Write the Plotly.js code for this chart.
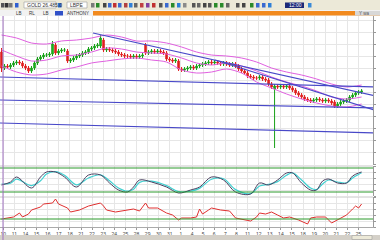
<!DOCTYPE html>
<html><head><meta charset="utf-8">
<script src="https://cdn.plot.ly/plotly-3.0.1.min.js"></script>
<style>html,body{margin:0;padding:0;background:#fff;overflow:hidden}#chart{width:380px;height:240px}</style>
</head><body><div id="chart"></div>
<script>
// ---- price candles (one per bar) ----
const candleOpen = [1324,1292,1296,1294,1298,1302,1304,1302,1296,1292, 1286,1292,1302,1310,1314,1318,1318,1320,1338,1322,
 1326,1328,1326,1306,1308,1312,1316,1318,1322,1324, 1330,1332,1336,1336,1348,1328,1330,1328,1326,1324,
 1320,1318,1316,1316,1314,1316,1314,1316,1338,1322, 1324,1326,1324,1326,1324,1322,1310,1308,1306,1306,
 1290,1288,1290,1292,1294,1292,1296,1298,1300,1302, 1304,1302,1304,1302,1300,1302,1300,1298,1300,1296,
 1290,1286,1282,1276,1274,1272,1272,1274,1270,1268, 1260,1250,1256,1254,1256,1254,1256,1252,1248,1242,
 1238,1234,1230,1228,1226,1228,1230,1228,1226,1228, 1226,1224,1216,1220,1224,1226,1228,1234,1238,1242, 1244];
const candleClose = [1292,1296,1294,1298,1302,1304,1302,1296,1292,1286, 1292,1302,1310,1314,1318,1318,1320,1340,1322,1326,
 1328,1328,1306,1308,1312,1316,1318,1322,1324,1330, 1332,1336,1338,1352,1328,1330,1328,1326,1324,1320,
 1318,1316,1316,1314,1316,1314,1316,1318,1322,1324, 1326,1324,1326,1324,1322,1310,1308,1306,1308,1290,
 1288,1290,1292,1294,1292,1296,1298,1300,1302,1304, 1302,1304,1302,1300,1302,1300,1298,1300,1296,1290,
 1286,1282,1276,1274,1272,1272,1274,1270,1268,1260, 1254,1256,1254,1256,1254,1256,1252,1248,1242,1238,
 1234,1230,1228,1226,1228,1230,1228,1226,1228,1226, 1222,1216,1220,1224,1226,1228,1234,1238,1242,1244, 1246];
const candleHigh = [1332,1300,1300,1302,1306,1308,1308,1306,1300,1296, 1296,1306,1314,1318,1322,1322,1324,1346,1342,1330,
 1332,1332,1330,1312,1316,1320,1322,1326,1328,1334, 1336,1340,1342,1358,1352,1334,1334,1332,1330,1328,
 1324,1322,1320,1320,1320,1320,1320,1322,1342,1328, 1330,1330,1330,1330,1328,1326,1314,1312,1312,1310,
 1294,1294,1296,1298,1298,1300,1302,1304,1306,1308, 1308,1308,1308,1306,1306,1306,1304,1304,1304,1300,
 1294,1290,1286,1280,1278,1276,1278,1278,1274,1272, 1264,1260,1260,1260,1260,1260,1260,1256,1252,1246,
 1242,1238,1234,1232,1232,1234,1234,1232,1232,1232, 1230,1228,1224,1228,1230,1232,1238,1242,1246,1248, 1250];
const candleLow = [1284,1288,1290,1290,1294,1298,1298,1292,1288,1282, 1282,1288,1298,1306,1310,1314,1314,1316,1318,1318,
 1322,1324,1302,1302,1304,1308,1312,1314,1318,1320, 1326,1328,1332,1332,1324,1324,1324,1322,1320,1316,
 1314,1312,1312,1310,1310,1310,1310,1312,1318,1318, 1320,1320,1320,1320,1318,1306,1304,1302,1302,1286,
 1284,1284,1286,1288,1288,1288,1292,1294,1296,1298, 1298,1298,1298,1296,1296,1296,1294,1294,1292,1286,
 1282,1278,1272,1270,1268,1268,1268,1266,1264,1256, 1250,1132,1250,1250,1250,1250,1248,1244,1238,1234,
 1230,1226,1224,1222,1222,1224,1224,1222,1222,1222, 1218,1212,1212,1216,1220,1222,1224,1230,1234,1238, 1240];

// ---- Bollinger bands (read every 5 bars) ----
const bandIdx = [0,5,10,15,20,25,30,35,40,45,50,55,60,65,70,75,80,85,90,95,100,105,110,115,120];
const bandUpper = [1358,1352,1342,1340,1346,1348,1352,1358,1354,1346,1346,1342,1334,1324,1318,1316,1312,1304,1292,1284,1278,1270,1260,1254,1258];
const bandMiddle = [1328,1316,1306,1308,1316,1318,1324,1332,1330,1324,1322,1320,1312,1302,1298,1302,1296,1286,1274,1264,1256,1246,1234,1230,1234];
const bandLower = [1296,1284,1278,1280,1288,1294,1302,1306,1310,1312,1308,1304,1288,1282,1284,1290,1282,1264,1252,1240,1230,1222,1216,1214,1220];

// ---- hand drawn trend lines (bar index, price) ----
const lineA_x = [-0.5, 126.2], lineA_y = [1274, 1254];
const lineB_x = [-0.5, 126.2], lineB_y = [1228, 1212];
const lineC_x = [-0.5, 126.2], lineC_y = [1182, 1162];
const lineD_x = [30.5, 126.2], lineD_y = [1362, 1234];
const lineE_x = [71.2, 126.2], lineE_y = [1308, 1204];

// ---- stochastic ----
const stochIdx = [0,3,5,10,13,15,18,21,25,29,33,36,39,42,44,46,50,55,59,63,66,70,74,78,83,86,89,92,95,97,100,103,105,107,109,112,115,117,119,120];
const stochK = [37.5,45,57.5,30,57.5,70,70,57.5,32.5,62.5,62.5,42.5,25,20,32.5,50,45,32.5,17.5,25,32.5,57.5,50,20,15,42.5,37.5,50,67.5,67.5,42.5,25,25,47.5,52.5,42.5,42.5,60,67.5,70];
const stochD = [40,42,52,36,48,65,71,62,38,55,63,48,30,22,27,44,47,36,21,22,29,52,53,26,16,35,39,46,62,68,50,30,26,40,50,45,43,55,64,68];
const stochLevels = [20, 80];

// ---- RSI ----
const rsiIdx = [0,2,4,6,7,9,10,13,14,17,18,19,22,23,26,29,33,34,35,38,40,44,46,48,49,52,55,57,59,60,63,
 65,66,67,69,70,73,76,78,80,83,85,86,88,90,92,94,96,99,102,103,105,108,110,112,114,115,117,118,119,120];
const rsiVal = [30,31.5,33,39,33,37.5,43.5,48,52.5,54,60,52.5,46.5,40.5,43.5,49.5,54,49.5,43.5,40.5,42,45,42,54,46.5,46.5,39,36,28.5,31.5,31.5,
 33,45,37.5,43.5,46.5,43.5,42,31.5,30,27,33,39,37.5,40.5,36,31.5,33,28.5,22.5,31.5,33,33,24,28.5,33,36,45,49.5,46.5,52.5];
const rsiLevels = [30];

// ---- axis labels ----
const xTickLabels = ["10","11","14","15","16","17","18","21","22","23","24","25","28","29","30","31","1","4","5","6","7","8","11","12","13","14","15","18","19","20","21","22","25"];
const toolbarSymbol = "GOLD 26.485.0";
const toolbarPeriod = "LBPE";
const tabLabels = ["LB","RL","LB","ANTHONY"];

const barIdx = candleClose.map((_, i) => i);

// ---------- layout helpers ----------
const H = 240, W = 380;
const py = p => 1 - p / H;
const px = p => p / W;

const mainDom = [py(165), py(16)];
const stochDom = [py(196), py(166)];
const rsiDom = [py(227), py(197)];

const bandLine = {color: '#e060e0', width: 1, shape: 'spline', smoothing: 0.8};
const blue = {color: '#4848c8', width: 1.2};

const traces = [
  {type: 'candlestick', x: barIdx, open: candleOpen, high: candleHigh, low: candleLow, close: candleClose,
   xaxis: 'x', yaxis: 'y', whiskerwidth: 0,
   increasing: {line: {color: '#18a018', width: 1}, fillcolor: '#20c020'},
   decreasing: {line: {color: '#e02020', width: 1}, fillcolor: '#e02020'}},
  {type: 'scatter', mode: 'lines', x: bandIdx, y: bandUpper, line: bandLine, xaxis: 'x', yaxis: 'y'},
  {type: 'scatter', mode: 'lines', x: bandIdx, y: bandMiddle, line: bandLine, xaxis: 'x', yaxis: 'y'},
  {type: 'scatter', mode: 'lines', x: bandIdx, y: bandLower, line: bandLine, xaxis: 'x', yaxis: 'y'},
  {type: 'scatter', mode: 'lines', x: lineA_x, y: lineA_y, line: blue, xaxis: 'x', yaxis: 'y'},
  {type: 'scatter', mode: 'lines', x: lineB_x, y: lineB_y, line: blue, xaxis: 'x', yaxis: 'y'},
  {type: 'scatter', mode: 'lines', x: lineC_x, y: lineC_y, line: blue, xaxis: 'x', yaxis: 'y'},
  {type: 'scatter', mode: 'lines', x: lineD_x, y: lineD_y, line: blue, xaxis: 'x', yaxis: 'y'},
  {type: 'scatter', mode: 'lines', x: lineE_x, y: lineE_y, line: blue, xaxis: 'x', yaxis: 'y'},
  {type: 'scatter', mode: 'lines', x: stochIdx, y: stochD, line: {color: '#40d0d0', width: 1.2, shape: 'spline'}, xaxis: 'x', yaxis: 'y2'},
  {type: 'scatter', mode: 'lines', x: stochIdx, y: stochK, line: {color: '#4a4060', width: 1, shape: 'spline'}, xaxis: 'x', yaxis: 'y2'},
  {type: 'scatter', mode: 'lines', x: rsiIdx, y: rsiVal, line: {color: '#e03030', width: 1}, xaxis: 'x', yaxis: 'y3'}
];

const shapes = [];
const annotations = [];
// toolbar
shapes.push({type: 'rect', xref: 'paper', yref: 'paper', x0: 0, x1: 1, y0: py(10), y1: 1, fillcolor: '#ece9d8', line: {width: 0}, layer: 'above'});
shapes.push({type: 'rect', xref: 'paper', yref: 'paper', x0: 0, x1: 1, y0: py(16), y1: py(10), fillcolor: '#f2f2f2', line: {width: 0}, layer: 'above'});
shapes.push({type: 'rect', xref: 'paper', yref: 'paper', x0: px(93), x1: 1, y0: py(15.5), y1: py(11), fillcolor: '#f28a1e', line: {width: 0}, layer: 'above'});
shapes.push({type: 'rect', xref: 'paper', yref: 'paper', x0: px(355), x1: 1, y0: py(15.5), y1: py(11), fillcolor: '#d8d8d8', line: {width: 0}, layer: 'above'});
// dropdown boxes
shapes.push({type: 'rect', xref: 'paper', yref: 'paper', x0: px(24), x1: px(56), y0: py(8), y1: py(2), fillcolor: '#ffffff', line: {color: '#9a9a9a', width: 0.6}, layer: 'above'});
shapes.push({type: 'rect', xref: 'paper', yref: 'paper', x0: px(67), x1: px(87), y0: py(8), y1: py(2), fillcolor: '#ffffff', line: {color: '#9a9a9a', width: 0.6}, layer: 'above'});
shapes.push({type: 'rect', xref: 'paper', yref: 'paper', x0: px(285), x1: px(304), y0: py(8), y1: py(2.5), fillcolor: '#1c2a78', line: {width: 0}, layer: 'above'});
shapes.push({type: 'rect', xref: 'paper', yref: 'paper', x0: px(55), x1: px(63), y0: py(15.5), y1: py(11), fillcolor: '#3050c8', line: {width: 0}, layer: 'above'});
const iconSpec = [[1,'#555'],[5,'#333'],[9,'#777'],[15,'#3060d0'],[58,'#2e6fd8'],[91,'#7a7a7a'],[96,'#2a8a2a'],[103,'#444'],[108,'#3a6ad0'],[113,'#c03030'],[118,'#3a6ad0'],[124,'#b04040'],[129,'#2e7fd8'],[134,'#666'],[140,'#c04040'],[146,'#8040a0'],[152,'#c03030'],[159,'#555'],[165,'#3a6ad0'],[171,'#2a8a2a'],[177,'#2e7fd8'],[183,'#8a8a8a'],
  [192,'#555'],[197,'#666'],[203,'#444'],[208,'#555'],[214,'#2a8a2a'],[220,'#2a8a2a'],[226,'#666'],[236,'#555'],[242,'#444'],[250,'#2a8a2a'],[256,'#3a6ad0'],[262,'#3a6ad0'],[268,'#2e7fd8'],[308,'#3a8ad8']];
iconSpec.forEach(([x, c]) => shapes.push({type: 'rect', xref: 'paper', yref: 'paper', x0: px(x), x1: px(x + 3.5), y0: py(7.5), y1: py(3), fillcolor: c, line: {width: 0}, layer: 'above'}));
// scroll bar
shapes.push({type: 'rect', xref: 'paper', yref: 'paper', x0: 0, x1: 1, y0: 0, y1: py(235), fillcolor: '#d4d0c8', line: {width: 0}, layer: 'above'});
shapes.push({type: 'rect', xref: 'paper', yref: 'paper', x0: px(352), x1: px(372), y0: py(239.5), y1: py(235.5), fillcolor: '#ece9d8', line: {color: '#a0a0a0', width: 0.6}, layer: 'above'});
// panel separators
[166, 197].forEach(yy => shapes.push({type: 'line', xref: 'paper', yref: 'paper', x0: 0, x1: px(373), y0: py(yy), y1: py(yy), line: {color: '#c8c8c8', width: 1}}));
// indicator levels
stochLevels.forEach(v => shapes.push({type: 'line', xref: 'paper', yref: 'y2', x0: 0, x1: px(373), y0: v, y1: v, line: {color: '#2c9a2c', width: 1}}));
rsiLevels.forEach(v => shapes.push({type: 'line', xref: 'paper', yref: 'y3', x0: 0, x1: px(373), y0: v, y1: v, line: {color: '#2c9a2c', width: 1}}));
// cursor line
shapes.push({type: 'line', xref: 'x', yref: 'paper', x0: 0.5, x1: 0.5, y0: py(240), y1: py(16), line: {color: '#a070c0', width: 1}, layer: 'above'});

const tiny = {family: 'Liberation Sans, DejaVu Sans, sans-serif', size: 5, color: '#333'};
annotations.push({xref: 'paper', yref: 'paper', x: px(25), y: py(5.2), text: toolbarSymbol, showarrow: false, xanchor: 'left', yanchor: 'middle', font: tiny});
annotations.push({xref: 'paper', yref: 'paper', x: px(68), y: py(5.2), text: toolbarPeriod, showarrow: false, xanchor: 'left', yanchor: 'middle', font: tiny});
annotations.push({xref: 'paper', yref: 'paper', x: px(287), y: py(5.2), text: '12:00', showarrow: false, xanchor: 'left', yanchor: 'middle', font: {family: tiny.family, size: 5, color: '#ffffff'}});
[[14, tabLabels[0]], [27, tabLabels[1]], [41, tabLabels[2]], [65, tabLabels[3]]].forEach(([x, t]) =>
  annotations.push({xref: 'paper', yref: 'paper', x: px(x), y: py(13.2), text: t, showarrow: false, xanchor: 'left', yanchor: 'middle', font: {family: tiny.family, size: 4.5, color: '#333'}}));
annotations.push({xref: 'paper', yref: 'paper', x: px(357), y: py(13.2), text: 'Y wa', showarrow: false, xanchor: 'left', yanchor: 'middle', font: {family: tiny.family, size: 4.5, color: '#555'}});

const tickVals = xTickLabels.map((_, k) => 0.6 + k * 3.7);

const gridC = '#e6e6e6';
const yCommon = {side: 'right', showline: true, linecolor: '#999', linewidth: 1, ticks: 'outside', ticklen: 2, tickcolor: '#999',
  showticklabels: false, gridcolor: gridC, gridwidth: 1, zeroline: false, fixedrange: true};

const layout = {
  width: W, height: H, margin: {l: 0, r: 0, t: 0, b: 0}, paper_bgcolor: '#ffffff', plot_bgcolor: '#ffffff',
  showlegend: false, hovermode: false, dragmode: false,
  xaxis: {domain: [0, px(373)], range: [-0.5, 123.8], anchor: 'y3', showgrid: true, gridcolor: gridC, gridwidth: 1,
    tickmode: 'array', tickvals: tickVals, ticktext: xTickLabels, ticks: 'outside', ticklen: 2, tickcolor: '#999',
    tickfont: {family: 'Liberation Sans, DejaVu Sans, sans-serif', size: 5, color: '#444'}, showline: true, linecolor: '#aaa',
    zeroline: false, rangeslider: {visible: false}, fixedrange: true, automargin: false},
  yaxis: Object.assign({}, yCommon, {domain: mainDom, range: [1098, 1396], tick0: 1100, dtick: 24, anchor: 'x'}),
  yaxis2: Object.assign({}, yCommon, {domain: stochDom, range: [10, 85], tick0: 10, dtick: 15, anchor: 'x'}),
  yaxis3: Object.assign({}, yCommon, {domain: rsiDom, range: [18, 63], tick0: 18, dtick: 9, anchor: 'x'}),
  shapes: shapes, annotations: annotations
};

Plotly.newPlot('chart', traces, layout, {displayModeBar: false, staticPlot: true});
</script></body></html>
